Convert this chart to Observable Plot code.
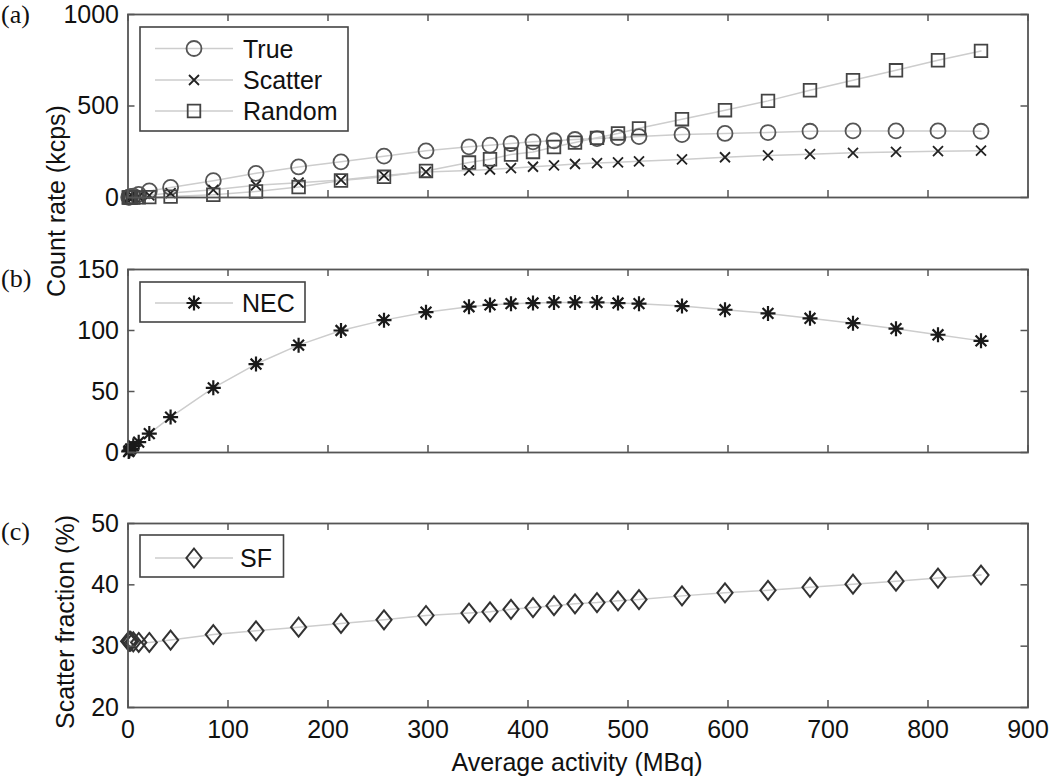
<!DOCTYPE html>
<html><head><meta charset="utf-8">
<script src="https://cdn.jsdelivr.net/npm/d3@7"></script>
<script src="https://cdn.jsdelivr.net/npm/@observablehq/plot@0.6"></script>
<style>
body{margin:0;background:#fff;}
#wrap{position:relative;width:1050px;height:777px;overflow:hidden;background:#fff;font-family:"Liberation Sans",Arial,sans-serif;}
#wrap svg{position:absolute;left:0;overflow:visible;background:transparent;}
</style></head><body><div id="wrap"></div>
<script>
// ---- data ----
const activity = [0.7,1.3,2.7,5.3,10.7,21.3,42.6,85.3,128,170.6,213,256,298,341,362,383,405,426,447,469,490,511,554,597,640,682,725,768,810,853];
const trueRate = [1,2,4,8,17,36,55,92,132,167,195,226,255,277,286,295,304,310,317,322,328,333,344,350,355,362,364,364,364,362];
const scatterRate = [0.3,0.6,1.2,2.4,5,12,24,42,67,81,96,120,140,148,153,160,168,175,183,188,192,198,208,220,230,237,244,249,253,256];
const randomRate = [0,0,0,0.2,0.5,2,5,15,33,57,93,113,145,191,209,235,249,276,300,326,350,378,428,477,528,586,641,695,750,801];
const necRate = [0.8,1.5,3,5.5,8.5,15.5,29,53,72.5,88,100,108.5,115,119.5,121,122,122.5,123,123,123,122.5,122,120,117,114,110,106,101.5,96.5,91.5];
const scatterFraction = [30.8,30.8,30.8,30.7,30.6,30.6,31.0,31.9,32.5,33.1,33.7,34.3,35.0,35.4,35.6,36.0,36.3,36.6,36.9,37.1,37.4,37.6,38.2,38.7,39.1,39.6,40.1,40.6,41.1,41.6];
const xTicks = [0,100,200,300,400,500,600,700,800,900];
const yTicksA = [0,500,1000];
const yTicksB = [0,50,100,150];
const yTicksC = [20,30,40,50];
const seriesA = ["True","Scatter","Random"];
const seriesB = ["NEC"];
const seriesC = ["SF"];

// ---- symbols ----
const symX = {draw(c, size){const s=Math.sqrt(size/Math.PI); c.moveTo(-s,-s); c.lineTo(s,s); c.moveTo(-s,s); c.lineTo(s,-s);}};
const symStar = {draw(c, size){const s=Math.sqrt(size/Math.PI), d=s*0.72; c.moveTo(-s,0); c.lineTo(s,0); c.moveTo(0,-s); c.lineTo(0,s); c.moveTo(-d,-d); c.lineTo(d,d); c.moveTo(-d,d); c.lineTo(d,-d);}};
const symSquare = {draw(c, size){const s=Math.sqrt(size/Math.PI); c.moveTo(-s,-s); c.lineTo(s,-s); c.lineTo(s,s); c.lineTo(-s,s); c.closePath();}};
const symDiamond = {draw(c, size){const s=Math.sqrt(size/Math.PI), w=s*0.8; c.moveTo(0,-s); c.lineTo(w,0); c.lineTo(0,s); c.lineTo(-w,0); c.closePath();}};
const symCircle = d3.symbolCircle;

const styles = {
  True:    {symbol: symCircle,  r: 7.5, stroke: "#555",    strokeWidth: 1.8},
  Scatter: {symbol: symX,       r: 5,   stroke: "#222",    strokeWidth: 1.8},
  Random:  {symbol: symSquare,  r: 6.3, stroke: "#444",    strokeWidth: 1.8},
  NEC:     {symbol: symStar,    r: 7.5, stroke: "#1a1a1a", strokeWidth: 2.2},
  SF:      {symbol: symDiamond, r: 9.5, stroke: "#333",    strokeWidth: 2.0}
};
const lineColor = "#cdcdcd";
const axisColor = "#555";
const FONT = "'Liberation Sans', Arial, sans-serif";

function table(values){ return activity.map((a,i)=>({x:a, y:values[i]})); }

const W = 1050, ML = 127.5, MR = 22.5;
const wrap = document.getElementById("wrap");

function makePanel({top, marginTop, innerH, marginBottom, yDomain, yTicks, layers, xLabels}) {
  const innerW = W - ML - MR;
  const marks = [];
  for (const [name, values] of layers) {
    marks.push(Plot.line(table(values), {x:"x", y:"y", stroke: lineColor, strokeWidth: 1.5}));
  }
  for (const [name, values] of layers) {
    const st = styles[name];
    marks.push(Plot.dot(table(values), {x:"x", y:"y", symbol: st.symbol, r: st.r, stroke: st.stroke, strokeWidth: st.strokeWidth, fill: "none"}));
  }
  marks.push(Plot.tickX(xTicks, {x: d=>d, stroke: axisColor, strokeWidth: 1.5, insetTop: innerH - 7}));
  marks.push(Plot.tickX(xTicks, {x: d=>d, stroke: axisColor, strokeWidth: 1.5, insetBottom: innerH - 7}));
  marks.push(Plot.tickY(yTicks, {y: d=>d, stroke: axisColor, strokeWidth: 1.5, insetRight: innerW - 7}));
  marks.push(Plot.tickY(yTicks, {y: d=>d, stroke: axisColor, strokeWidth: 1.5, insetLeft: innerW - 7}));
  marks.push(Plot.axisY(yTicks, {tickSize: 0, tickPadding: 9, label: null, fill: "#111", tickFormat: d3.format("d")}));
  if (xLabels) marks.push(Plot.axisX(xTicks, {tickSize: 0, tickPadding: 13, label: null, fill: "#111", tickFormat: d3.format("d")}));
  marks.push(Plot.frame({stroke: axisColor, strokeWidth: 1.8}));
  const svg = Plot.plot({
    width: W, height: marginTop + innerH + marginBottom,
    marginTop, marginBottom, marginLeft: ML, marginRight: MR,
    x: {domain: [0, 900], axis: xLabels ? undefined : null},
    y: {domain: yDomain},
    style: {fontSize: "25px", fontFamily: FONT, background: "transparent", overflow: "visible"},
    marks
  });
  svg.style.position = "absolute";
  svg.style.top = top + "px";
  svg.style.left = "0px";
  svg.style.maxWidth = "none";
  wrap.appendChild(svg);
}

makePanel({top: 0, marginTop: 14, innerH: 183, marginBottom: 15, yDomain: [0, 1000], yTicks: yTicksA,
  layers: [["True", trueRate], ["Scatter", scatterRate], ["Random", randomRate]]});
makePanel({top: 249, marginTop: 20, innerH: 183, marginBottom: 15, yDomain: [0, 150], yTicks: yTicksB,
  layers: [["NEC", necRate]]});
makePanel({top: 503, marginTop: 20, innerH: 184, marginBottom: 50, yDomain: [20, 50], yTicks: yTicksC,
  layers: [["SF", scatterFraction]], xLabels: true});

// ---- overlay: titles, panel letters, legends ----
const ov = d3.select(wrap).append("svg").attr("width", W).attr("height", 777).style("top", "0px")
  .style("font-family", FONT).style("font-size", "25px");

function txt(x, y, s, opts = {}) {
  const t = ov.append("text").attr("x", x).attr("y", y).attr("dominant-baseline", "central")
    .attr("text-anchor", opts.anchor || "start").attr("fill", "#111").text(s);
  if (opts.rotate) t.attr("transform", `rotate(-90,${x},${y})`);
  if (opts.serif) t.attr("font-family", "'Liberation Serif', 'Times New Roman', serif").attr("font-size", 26);
  return t;
}
txt(1, 14, "(a)", {serif: true});
txt(1, 278, "(b)", {serif: true});
txt(1, 531, "(c)", {serif: true});
txt(56, 201, "Count rate (kcps)", {rotate: true, anchor: "middle"});
txt(65, 622, "Scatter fraction (%)", {rotate: true, anchor: "middle"});
txt(577, 762, "Average activity (MBq)", {anchor: "middle"});

function legend(x0, y0, x1, y1, names, rowYs, textX) {
  ov.append("rect").attr("x", x0).attr("y", y0).attr("width", x1 - x0).attr("height", y1 - y0)
    .attr("fill", "#fff").attr("stroke", "#444").attr("stroke-width", 1.6);
  names.forEach((name, i) => {
    const y = rowYs[i], st = styles[name];
    ov.append("line").attr("x1", 155).attr("x2", 233).attr("y1", y).attr("y2", y)
      .attr("stroke", lineColor).attr("stroke-width", 1.5);
    ov.append("path").attr("d", d3.symbol().type(st.symbol).size(Math.PI * st.r * st.r)())
      .attr("transform", `translate(194,${y})`).attr("fill", "none")
      .attr("stroke", st.stroke).attr("stroke-width", st.strokeWidth);
    txt(textX, y, name);
  });
}
legend(140, 27, 348, 131, seriesA, [48.5, 80, 111], 243);
legend(140, 282, 305, 322, seriesB, [303], 242);
legend(140, 535, 283.5, 577, seriesC, [558], 240);
</script>
</body></html>
